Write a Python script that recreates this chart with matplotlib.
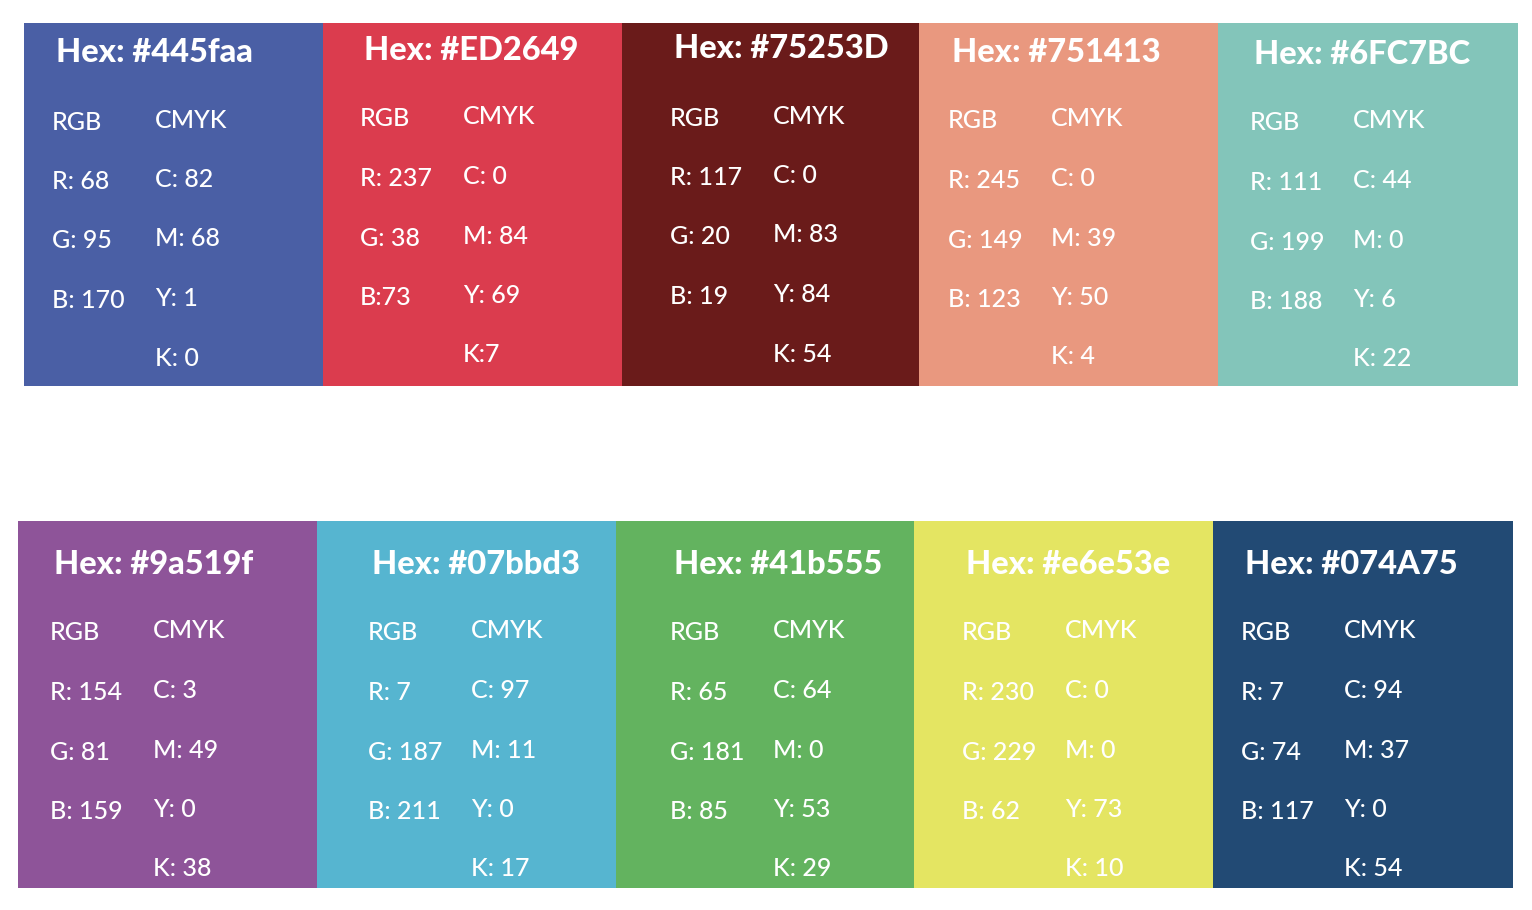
import matplotlib
matplotlib.use("Agg")
import matplotlib.pyplot as plt

# ---- data ----
hex_labels = ["#445faa", "#ED2649", "#75253D", "#751413", "#6FC7BC",
              "#9a519f", "#07bbd3", "#41b555", "#e6e53e", "#074A75"]
swatch_colors = ["#4A5FA5", "#DB3C4E", "#6A1B1A", "#E9987F", "#83C5BA",
                 "#8E5499", "#56B5D0", "#63B35F", "#E4E562", "#224A74"]
rgb_r = ["R: 68", "R: 237", "R: 117", "R: 245", "R: 111",
         "R: 154", "R: 7", "R: 65", "R: 230", "R: 7"]
rgb_g = ["G: 95", "G: 38", "G: 20", "G: 149", "G: 199",
         "G: 81", "G: 187", "G: 181", "G: 229", "G: 74"]
rgb_b = ["B: 170", "B:73", "B: 19", "B: 123", "B: 188",
         "B: 159", "B: 211", "B: 85", "B: 62", "B: 117"]
cmyk_c = ["C: 82", "C: 0", "C: 0", "C: 0", "C: 44",
          "C: 3", "C: 97", "C: 64", "C: 0", "C: 94"]
cmyk_m = ["M: 68", "M: 84", "M: 83", "M: 39", "M: 0",
          "M: 49", "M: 11", "M: 0", "M: 0", "M: 37"]
cmyk_y = ["Y: 1", "Y: 69", "Y: 84", "Y: 50", "Y: 6",
          "Y: 0", "Y: 0", "Y: 53", "Y: 73", "Y: 0"]
cmyk_k = ["K: 0", "K:7", "K: 54", "K: 4", "K: 22",
          "K: 38", "K: 17", "K: 29", "K: 10", "K: 54"]

# ---- layout (pixels) ----
box_left = [24, 323, 622, 919, 1218, 18, 317, 616, 914, 1213]
box_width = [299, 299, 297, 299, 300, 299, 299, 298, 299, 300]
box_top = [23, 23, 23, 23, 23, 521, 521, 521, 521, 521]
box_height = [363, 363, 363, 363, 363, 367, 367, 367, 367, 367]
text_x = [52, 360, 670, 948, 1250, 50, 368, 670, 962, 1241]
title_y = [52, 50, 49, 52, 55, 565, 565, 565, 565, 565]
row0_y = [122, 119, 118, 121, 123, 633, 633, 633, 633, 633]
row_step = 59.5
col_gap = 103

W, H = 1532, 910
fig = plt.figure(figsize=(W / 100, H / 100), dpi=100)
ax = fig.add_axes([0, 0, 1, 1])
ax.set_xlim(0, W)
ax.set_ylim(H, 0)
ax.axis("off")

ax.bar(box_left, box_height, width=box_width, bottom=box_top, align="edge",
       color=swatch_colors, edgecolor="none")

fam = ["Lato", "DejaVu Sans"]
tsize = 23.5
bsize = 18
for i in range(len(hex_labels)):
    ax.text(text_x[i] + 4, title_y[i], "Hex: " + hex_labels[i], color="white",
            fontsize=tsize, fontweight="black", family=fam, va="center", ha="left")
    left_col = ["RGB", rgb_r[i], rgb_g[i], rgb_b[i]]
    right_col = ["CMYK", cmyk_c[i], cmyk_m[i], cmyk_y[i], cmyk_k[i]]
    for j, s in enumerate(left_col):
        ax.text(text_x[i], row0_y[i] + j * row_step, s, color="white",
                fontsize=bsize, fontweight="medium", family=fam,
                va="center", ha="left")
    for j, s in enumerate(right_col):
        ax.text(text_x[i] + col_gap, row0_y[i] - 2 + j * row_step, s, color="white",
                fontsize=bsize, fontweight="medium", family=fam,
                va="center", ha="left")

fig.savefig("out.png", dpi=100, facecolor="white")
